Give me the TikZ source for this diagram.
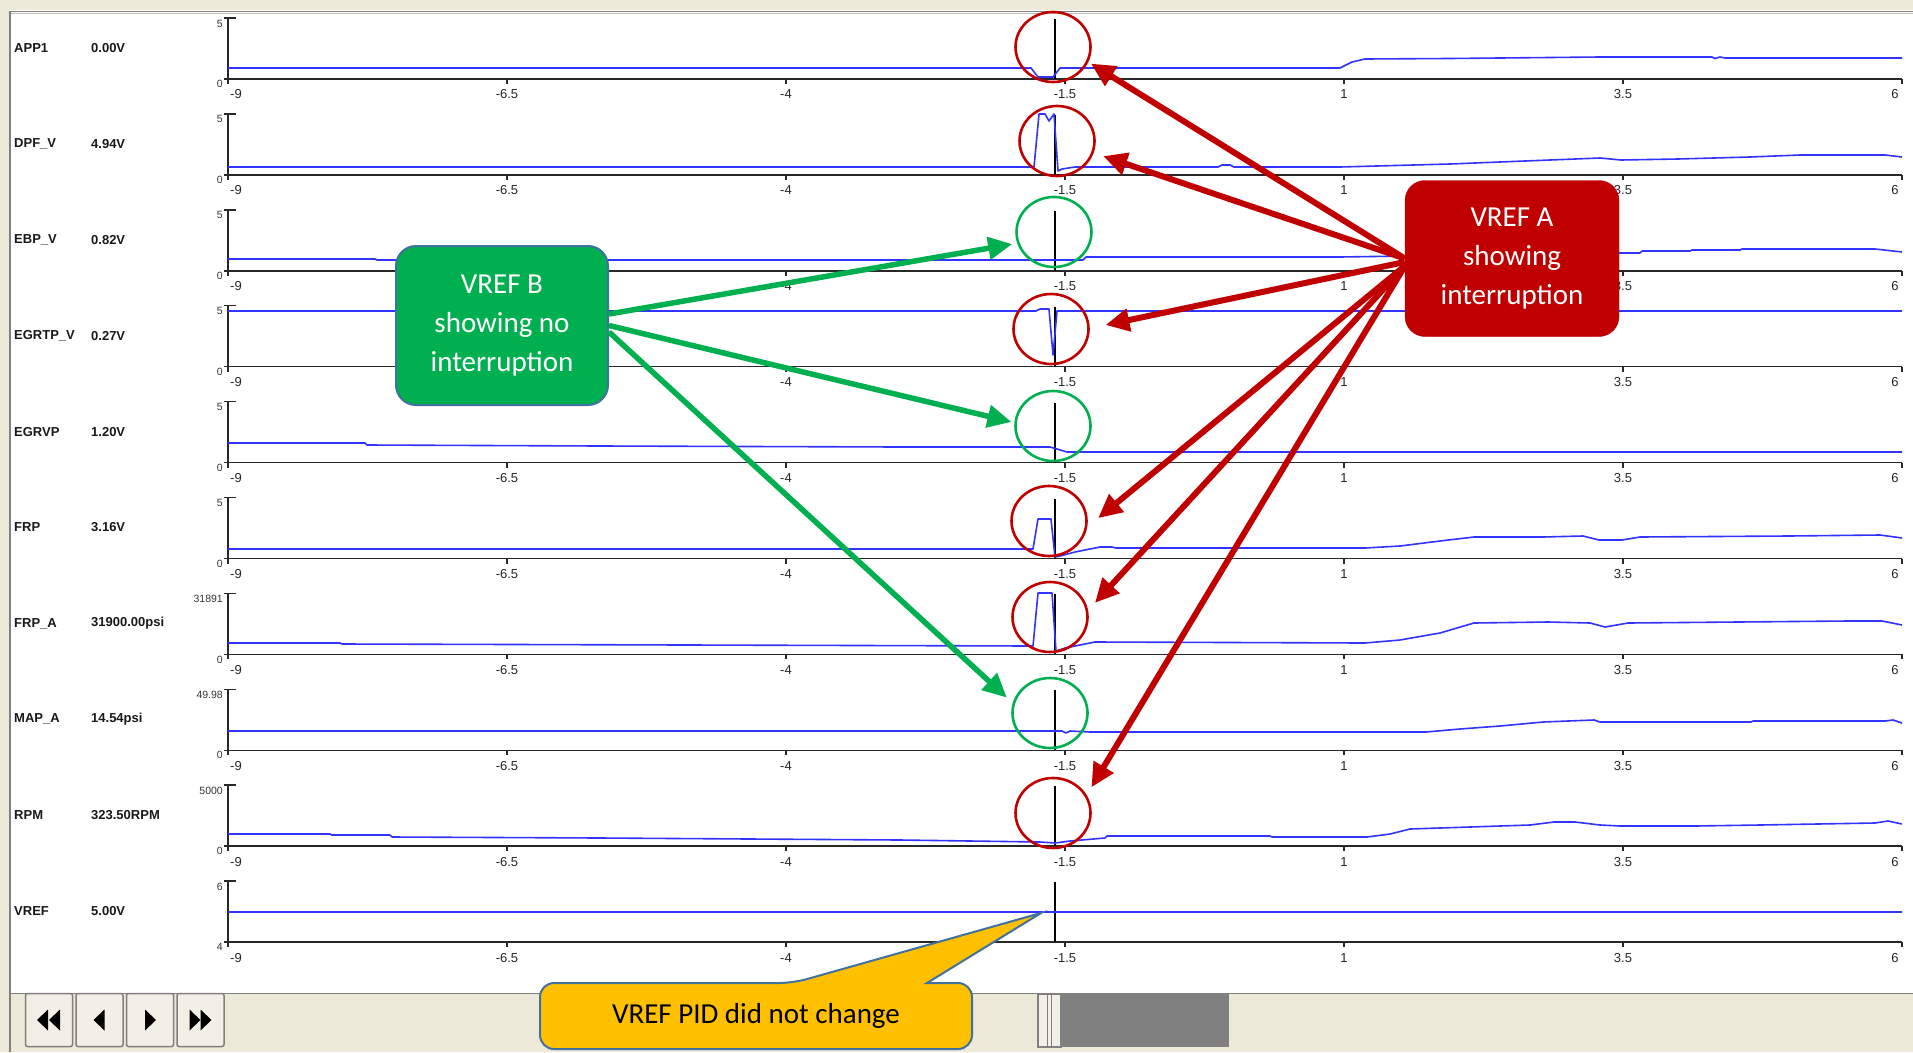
\documentclass[tikz,border=0pt]{standalone}
\usepackage{fontspec}
\setmainfont{Liberation Sans}
\newfontfamily\calfont{Carlito}
\usepackage{tikz}
\usetikzlibrary{arrows.meta,positioning,shapes.geometric,calc,backgrounds}

\definecolor{winbeige}{RGB}{236,233,216}
\definecolor{btnbeige}{RGB}{242,240,230}
\definecolor{framegray}{RGB}{128,128,128}
\definecolor{tracecol}{RGB}{51,51,255}
\definecolor{axiscol}{RGB}{40,40,40}
\definecolor{markred}{RGB}{192,0,0}
\definecolor{markgreen}{RGB}{0,176,80}
\definecolor{slateblue}{RGB}{65,113,156}
\definecolor{pidyellow}{RGB}{255,192,0}

\begin{document}
\begin{tikzpicture}[x=1pt, y=-1pt,
  chlabel/.style={anchor=west, inner sep=0pt, text=black!90,
                  font=\bfseries\fontsize{13}{15}\selectfont},
  ylab/.style={anchor=east, inner sep=0pt, text=black!80,
               font=\fontsize{10.5}{12}\selectfont},
  xlab/.style={inner sep=0pt, text=black!85, font=\fontsize{13}{15}\selectfont},
  axisline/.style={draw=axiscol, line width=1.5pt},
  cursorline/.style={draw=black, line width=1.1pt},
  trace/.style={draw=tracecol, line width=1.6pt, line join=round},
  redring/.style={ellipse, draw=markred, line width=2.6pt, inner sep=0pt,
                  minimum width=75pt, minimum height=70pt},
  greenring/.style={redring, draw=markgreen},
  redarrow/.style={draw=markred, line width=6pt, -{Triangle[length=24pt,width=22pt]}},
  greenarrow/.style={draw=markgreen, line width=5.5pt, -{Triangle[length=24pt,width=22pt]}},
  notebox/.style={rectangle, rounded corners=20pt, align=center, text=white,
                  font=\calfont\fontsize{29}{39}\selectfont},
  pidshape/.style={draw=slateblue, fill=pidyellow, line width=2pt},
  navbtn/.style={rectangle, draw=framegray, fill=btnbeige, line width=1.5pt,
                 rounded corners=2pt, minimum width=47pt, minimum height=53pt},
  thumb/.style={rectangle, draw=framegray, fill=btnbeige, line width=1.2pt,
                minimum width=23pt, minimum height=53pt},
  track/.style={rectangle, fill=framegray, inner sep=0pt,
                minimum width=167pt, minimum height=53pt}
]
  \useasboundingbox (0,0) rectangle (1913,1052);

  \begin{scope}[on background layer]
    \fill[white] (0,0) rectangle (1913,1052);
    % window frame
    \fill[winbeige] (0,0) rectangle (1913,10);
    \fill[winbeige] (0,0) rectangle (9,1052);
    \draw[framegray, line width=1.5pt] (10,11.5) -- (1913,11.5);
    \draw[black!25, line width=1.5pt] (11,13.5) -- (1913,13.5);
    \draw[framegray, line width=1.5pt] (10,11) -- (10,1052);

    % channels
    \foreach \i/\nm/\val/\hi/\lo in {0/APP1/0.00V/5/0, 1/DPF\_V/4.94V/5/0,
        2/EBP\_V/0.82V/5/0, 3/EGRTP\_V/0.27V/5/0, 4/EGRVP/1.20V/5/0,
        5/FRP/3.16V/5/0, 6/FRP\_A/31900.00psi/31891/0, 7/MAP\_A/14.54psi/49.98/0,
        8/RPM/323.50RPM/5000/0, 9/VREF/5.00V/6/4} {
      \pgfmathsetmacro\yb{79+95.9*\i}
      \node[chlabel] (nm\i) at (14,\yb-31) {\nm};
      \node[chlabel] (val\i) at (91,\yb-31) {\val};
      \draw[axisline] (224,\yb-61) -- (236,\yb-61);
      \draw[axisline] (228,\yb-61) -- (228,\yb+4);
      \draw[axisline] (224,\yb) -- (1902,\yb);
      \node[ylab] (hi\i) at (223,\yb-55.5) {\hi};
      \node[ylab] (lo\i) at (223,\yb+5) {\lo};
      \foreach \t [count=\k from 0] in {-9,-6.5,-4,-1.5,1,3.5,6} {
        \pgfmathsetmacro\tx{228+279*\k}
        \pgfmathsetmacro\lx{\tx+8*(\k==0)-7*(\k==6)}
        % labels hidden behind the green note are left out
        \pgfmathtruncatemacro\hidden{(\k==1)*((\i==2)+(\i==3))}
        \draw[axisline] (\tx,\yb) -- (\tx,\yb+5);
        \ifnum\hidden=0
          \node[xlab] (x\i-\k) at (\lx,\yb+15.5) {\t};
        \fi
      }
      \draw[cursorline] (1055,\yb-60) -- (1055,\yb);
    }

    % traces
    \draw[trace] (228,68) -- (1031,68) -- (1038,77) -- (1053,77) -- (1060,68) -- (1340,68)
      -- (1352,62) -- (1365,59) -- (1450,58.5) -- (1600,57) -- (1712,57) -- (1715,58.5)
      -- (1720,57) -- (1725,58) -- (1902,58);
    \draw[trace] (228,167) -- (1034,167) -- (1039,114) -- (1045,114) -- (1049,121)
      -- (1054,114) -- (1058,171) -- (1062,169) -- (1075,167) -- (1218,167) -- (1222,165)
      -- (1230,165) -- (1234,167) -- (1340,167) -- (1450,164) -- (1600,158) -- (1621,160)
      -- (1678,159) -- (1750,157) -- (1800,155) -- (1885,155) -- (1902,157);
    \draw[trace] (228,259) -- (375,259) -- (377,260) -- (1083,260) -- (1086,257)
      -- (1340,257) -- (1600,253) -- (1640,253) -- (1642,251) -- (1690,251) -- (1692,250)
      -- (1740,250) -- (1742,249) -- (1875,249) -- (1902,252);
    \draw[trace] (228,311) -- (1036,311) -- (1040,309) -- (1049,309) -- (1053,355)
      -- (1057,311) -- (1902,311);
    \draw[trace] (228,443) -- (365,443) -- (367,445) -- (600,446) -- (900,447)
      -- (1050,447) -- (1057,449) -- (1067,452) -- (1902,452);
    \draw[trace] (228,549) -- (1033,549) -- (1038,519) -- (1051,519) -- (1055,557)
      -- (1060,556) -- (1075,552) -- (1095,548) -- (1100,547) -- (1112,547) -- (1116,548)
      -- (1365,548) -- (1400,546) -- (1440,541) -- (1474,537) -- (1543,537) -- (1583,536)
      -- (1599,540) -- (1622,540) -- (1640,537) -- (1789,536) -- (1880,535) -- (1902,538);
    \draw[trace] (228,643) -- (340,643) -- (342,644) -- (1033,646) -- (1038,593)
      -- (1052,593) -- (1056,651) -- (1065,648) -- (1080,645) -- (1095,642) -- (1365,643)
      -- (1400,640) -- (1440,633) -- (1474,623) -- (1548,622) -- (1590,623) -- (1605,627)
      -- (1628,623) -- (1848,621) -- (1882,621) -- (1902,625);
    \draw[trace] (228,731) -- (1062,731) -- (1066,733) -- (1070,731) -- (1090,732)
      -- (1426,732) -- (1460,729) -- (1500,726) -- (1543,722) -- (1594,720) -- (1600,722)
      -- (1751,722) -- (1753,721) -- (1885,721) -- (1893,720) -- (1902,723);
    \draw[trace] (228,834) -- (330,834) -- (332,835) -- (390,835) -- (392,837)
      -- (600,838) -- (900,840) -- (1040,842) -- (1055,843) -- (1070,841) -- (1105,838)
      -- (1107,836) -- (1270,836) -- (1272,837) -- (1367,837) -- (1390,834) -- (1410,829)
      -- (1470,827) -- (1530,825) -- (1554,822) -- (1575,822) -- (1600,825) -- (1620,826)
      -- (1695,826) -- (1760,825) -- (1875,823) -- (1888,821) -- (1902,824);
    \draw[trace] (228,912) -- (1902,912);

    % toolbar
    \fill[winbeige] (11,993) rectangle (1913,1052);
    \draw[framegray, line width=1pt] (11,993) -- (1913,993);
  \end{scope}

  % navigation buttons
  \node[navbtn] (btn1) at (49,1020) {};
  \node[navbtn, right=2pt of btn1] (btn2) {};
  \node[navbtn, right=2pt of btn2] (btn3) {};
  \node[navbtn, right=2pt of btn3] (btn4) {};
  \fill ($(btn1.center)+(-12,0)$) -- ++(11,-10.5) -- ++(0,21) -- cycle;
  \fill ($(btn1.center)+(0,0)$) -- ++(11,-10.5) -- ++(0,21) -- cycle;
  \fill ($(btn2.center)+(-6,0)$) -- ++(11,-10.5) -- ++(0,21) -- cycle;
  \fill ($(btn3.center)+(6,0)$) -- ++(-11,-10.5) -- ++(0,21) -- cycle;
  \fill ($(btn4.center)+(0,0)$) -- ++(-11,-10.5) -- ++(0,21) -- cycle;
  \fill ($(btn4.center)+(11,0)$) -- ++(-11,-10.5) -- ++(0,21) -- cycle;

  % scroll bar
  \node[thumb] (thumb) at (1049.5,1020.5) {};
  \node[track, right=0pt of thumb] (track) {};
  \draw[framegray, line width=1pt] ([xshift=-2pt]thumb.north) -- ([xshift=-2pt]thumb.south);
  \draw[framegray, line width=1pt] ([xshift=1.5pt]thumb.north) -- ([xshift=1.5pt]thumb.south);

  % marked spots
  \node[redring] (cAPP) at (1053,47) {};
  \node[redring] (cDPF) at (1057,141) {};
  \node[greenring] (cEBP) at (1054,232) {};
  \node[redring] (cEGRTP) at (1051,329) {};
  \node[greenring] (cEGRVP) at (1053,426) {};
  \node[redring] (cFRP) at (1049,521) {};
  \node[redring] (cFRPA) at (1050,617) {};
  \node[greenring] (cMAP) at (1050,713) {};
  \node[redring] (cRPM) at (1053,813) {};

  % notes
  \node[notebox, fill=markred, draw=markred, minimum width=214pt, minimum height=156pt]
    (vrefA) at (1512,258.5) {VREF A\\showing\\interruption};
  \node[notebox, fill=markgreen, draw=slateblue, line width=2pt,
        minimum width=212pt, minimum height=159pt]
    (vrefB) at (502,325.5) {VREF B\\showing no\\interruption};

  \coordinate (pidTip) at (1041,913);
  \draw[pidshape] (756,1049) [rounded corners=14pt] -- (540,1049) -- (540,983)
    -- (793,983) [sharp corners] -- (pidTip) -- (927,983) [rounded corners=14pt]
    -- (972,983) -- (972,1049) -- cycle;
  \node[font=\calfont\fontsize{29}{35}\selectfont] (pid) at (756,1016) {VREF PID did not change};

  % arrows
  \draw[redarrow, shorten >=3pt] (vrefA.west) -- (cAPP.-23);
  \draw[redarrow, shorten >=10pt] (vrefA.west) -- (cDPF.-18);
  \draw[redarrow, shorten >=16pt] ([yshift=-3.5pt]vrefA.west) -- (cEGRTP.1);
  \draw[redarrow, shorten >=14pt] ([yshift=-7.5pt]vrefA.west) -- (cFRP.-9);
  \draw[redarrow, shorten >=10pt] ([yshift=-7.5pt]vrefA.west) -- (cFRPA.10);
  \draw[redarrow, shorten >=9pt] ([yshift=-7.5pt]vrefA.west) -- (cRPM.28);
  \draw[greenarrow, shorten >=5pt] ([yshift=11.5pt]vrefB.east) -- (cEBP.197);
  \draw[greenarrow, shorten >=3pt] (vrefB.east) -- (cEGRVP.175);
  \draw[greenarrow, shorten >=8pt] ([yshift=-6.5pt]vrefB.east) -- (cMAP.165);
\end{tikzpicture}
\end{document}
